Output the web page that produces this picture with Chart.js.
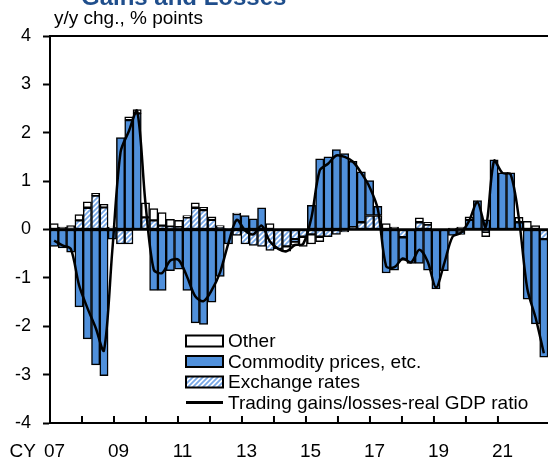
<!DOCTYPE html>
<html>
<head>
<meta charset="utf-8">
<script src="https://cdn.jsdelivr.net/npm/chart.js@4.4.1/dist/chart.umd.min.js"></script>
<style>
  body { margin: 0; background: #fff; }
  #wrap { width: 548px; height: 462px; }
</style>
</head>
<body>
<div id="wrap"><canvas id="c" width="548" height="462"></canvas></div>
<script>
// quarterly data, CY2007Q1 - CY2021Q4
const quarters = [];
for (let y = 2007; y <= 2021; y++) {
  for (let q = 1; q <= 4; q++) quarters.push(y + 'Q' + q);
}

const exchangeRates = [
  0, 0, 0.02, 0.19, 0.45, 0.70, 0.46, 0.03,
  -0.30, -0.30, 0, 0.25, 0.19, 0.08, 0.06, 0.05,
  0.25, 0.45, 0.40, 0.20, 0.05, 0.02, -0.12, -0.30,
  -0.33, -0.35, -0.43, -0.40, -0.35, -0.20, -0.15, -0.10,
  -0.15, -0.15, -0.10, -0.05, 0.05, 0.15, 0.29, 0.29,
  0, 0, -0.16, 0, 0.15, 0.10, 0, 0,
  0, -0.05, 0, 0, -0.05, 0, 0, 0,
  0, 0, 0, -0.20
];

const commodityPrices = [
  -0.35, -0.38, -0.47, -1.60, -2.26, -2.80, -3.02, -0.20,
  1.90, 2.26, 2.40, 0, -1.26, -1.26, -0.85, -0.82,
  -1.26, -1.93, -1.96, -1.50, -0.97, -0.30, 0.32, 0.29,
  0.22, 0.45, 0, 0, 0, -0.05, 0, 0.50,
  1.46, 1.50, 1.65, 1.57, 1.36, 1.04, 0.72, 0.19,
  -0.90, -0.84, -0.48, -0.70, -0.70, -0.84, -1.23, -0.85,
  -0.12, -0.05, 0.20, 0.60, 0.20, 1.44, 1.17, 1.17,
  0.15, -1.44, -1.95, -2.44
];

const other = [
  0.12, 0.05, 0.06, 0.12, 0.12, 0.05, 0.06, 0.02,
  0, 0.07, 0.08, 0.30, 0.24, 0.27, 0.15, 0.14,
  0.04, 0.10, 0.06, 0.06, 0.03, 0, 0.02, 0,
  0, 0, 0.12, 0, -0.10, -0.08, -0.20, -0.20,
  -0.10, 0, 0, 0, 0, 0, 0, 0,
  0.12, 0.05, 0, 0, 0.09, 0.05, 0, 0,
  0.03, 0.05, 0.06, 0, -0.10, 0, 0, 0,
  0.10, 0.17, 0.08, 0
];

const tradingGains = [
  -0.23, -0.33, -0.40, -1.15, -1.62, -2.03, -2.50, -0.45,
  1.60, 2.03, 2.45, 0.55, -0.83, -0.90, -0.64, -0.63,
  -0.97, -1.38, -1.48, -1.25, -0.88, -0.28, 0.20, -0.02,
  -0.10, 0.08, -0.25, -0.40, -0.45, -0.32, -0.30, 0.25,
  1.22, 1.36, 1.53, 1.50, 1.40, 1.17, 0.88, 0.42,
  -0.76, -0.78, -0.60, -0.68, -0.42, -0.66, -1.20, -0.70,
  -0.15, -0.07, 0.18, 0.57, 0.05, 1.42, 1.17, 1.14,
  0.22, -1.22, -1.82, -2.56
];

const yearLabels = ['07', '09', '11', '13', '15', '17', '19', '21'];
const legendNames = ['Other', 'Commodity prices, etc.', 'Exchange rates', 'Trading gains/losses-real GDP ratio'];

const FONT = '"Liberation Sans", Arial, sans-serif';
const BLUE = '#5090db';

const canvas = document.getElementById('c');
const ctx0 = canvas.getContext('2d');

// white with light blue diagonal stripes
function hatch() {
  const t = document.createElement('canvas');
  t.width = 5; t.height = 5;
  const g = t.getContext('2d');
  g.fillStyle = '#ffffff';
  g.fillRect(0, 0, 5, 5);
  g.strokeStyle = '#78a9e8';
  g.lineWidth = 1.8;
  g.beginPath();
  g.moveTo(-1, 6); g.lineTo(6, -1);
  g.moveTo(-3.5, 3.5); g.lineTo(3.5, -3.5);
  g.moveTo(1.5, 8.5); g.lineTo(8.5, 1.5);
  g.stroke();
  return ctx0.createPattern(t, 'repeat');
}
const HATCH = hatch();

// labels and year ticks sit on a slightly tighter pitch than the bars
const YEAR_PITCH = 3.855;

const decor = {
  id: 'decor',
  afterDatasetsDraw(chart) {
    const { ctx, chartArea: a, scales: { x, y } } = chart;
    ctx.save();
    ctx.strokeStyle = '#000';
    // zero line
    ctx.lineWidth = 2.5;
    const y0 = y.getPixelForValue(0);
    ctx.beginPath();
    ctx.moveTo(a.left, y0); ctx.lineTo(a.right, y0);
    ctx.stroke();
    // frame top and bottom
    ctx.lineWidth = 2;
    ctx.beginPath();
    ctx.moveTo(a.left, a.top); ctx.lineTo(a.right, a.top);
    ctx.moveTo(a.left, a.bottom); ctx.lineTo(a.right, a.bottom);
    ctx.stroke();
    // year ticks on the x axis
    const step = x.getPixelForValue(1) - x.getPixelForValue(0);
    const start = x.getPixelForValue(0) - step / 2;
    ctx.lineWidth = 2;
    ctx.beginPath();
    for (let k = 1; k <= 14; k++) {
      const px = start + k * YEAR_PITCH * step;
      ctx.moveTo(px, a.bottom); ctx.lineTo(px, a.bottom - 7);
    }
    ctx.stroke();
    // year labels
    ctx.fillStyle = '#000';
    ctx.font = '19px ' + FONT;
    ctx.textAlign = 'center';
    ctx.textBaseline = 'middle';
    yearLabels.forEach((lab, k) => {
      const px = start + (0.55 + k * 2 * YEAR_PITCH) * step;
      ctx.fillText(lab, px, 452);
    });
    ctx.textAlign = 'right';
    ctx.fillText('CY', 36, 452);
    ctx.restore();
  },
  afterDraw(chart) {
    const { ctx } = chart;
    ctx.save();
    // cut off title
    ctx.fillStyle = '#1f4e8c';
    ctx.font = 'bold 24px ' + FONT;
    ctx.textAlign = 'left';
    ctx.textBaseline = 'alphabetic';
    ctx.fillText('Gains and Losses', 81, 5);
    // unit
    ctx.fillStyle = '#000';
    ctx.font = '19px ' + FONT;
    ctx.textBaseline = 'middle';
    ctx.fillText('y/y chg., % points', 54, 19);
    // legend
    const sets = chart.data.datasets;
    const items = [
      [sets[3], legendNames[0]],
      [sets[2], legendNames[1]],
      [sets[1], legendNames[2]],
      [sets[0], legendNames[3]]
    ];
    ctx.font = '19px ' + FONT;
    items.forEach(([ds, name], k) => {
      const cy = 341 + k * 20.5;
      if (ds.type === 'line') {
        ctx.strokeStyle = '#000';
        ctx.lineWidth = 3;
        ctx.beginPath();
        ctx.moveTo(186, cy); ctx.lineTo(223, cy);
        ctx.stroke();
      } else {
        ctx.fillStyle = ds.backgroundColor;
        ctx.fillRect(186, cy - 5.5, 37, 11);
        ctx.strokeStyle = '#000';
        ctx.lineWidth = 2;
        ctx.strokeRect(186, cy - 5.5, 37, 11);
      }
      ctx.fillStyle = '#000';
      ctx.fillText(name, 228, cy + 1);
    });
    ctx.restore();
  }
};

const barStyle = {
  borderColor: '#000',
  borderWidth: 1.5,
  borderSkipped: false,
  barPercentage: 1,
  categoryPercentage: 1
};

new Chart(canvas, {
  type: 'bar',
  data: {
    labels: quarters,
    datasets: [
      {
        type: 'line',
        label: legendNames[3],
        data: tradingGains,
        borderColor: '#000',
        borderWidth: 2.5,
        pointRadius: 0,
        tension: 0.3,
        fill: false
      },
      Object.assign({ label: legendNames[2], data: exchangeRates, backgroundColor: HATCH }, barStyle),
      Object.assign({ label: legendNames[1], data: commodityPrices, backgroundColor: BLUE }, barStyle),
      Object.assign({ label: legendNames[0], data: other, backgroundColor: '#ffffff' }, barStyle)
    ]
  },
  options: {
    responsive: false,
    animation: false,
    layout: { padding: { left: 0, right: 0, top: 36, bottom: 39 } },
    plugins: { legend: { display: false }, tooltip: { enabled: false } },
    scales: {
      x: { stacked: true, display: false },
      y: {
        stacked: true,
        min: -4,
        max: 4,
        afterFit(s) { s.width = 50; },
        ticks: { stepSize: 1, color: '#000', font: { family: FONT, size: 18 }, padding: 12 },
        grid: { drawOnChartArea: false, drawTicks: true, tickLength: 7, tickWidth: 2, tickColor: '#000' },
        border: { display: true, color: '#000', width: 2 }
      }
    }
  },
  plugins: [decor]
});
</script>
</body>
</html>
